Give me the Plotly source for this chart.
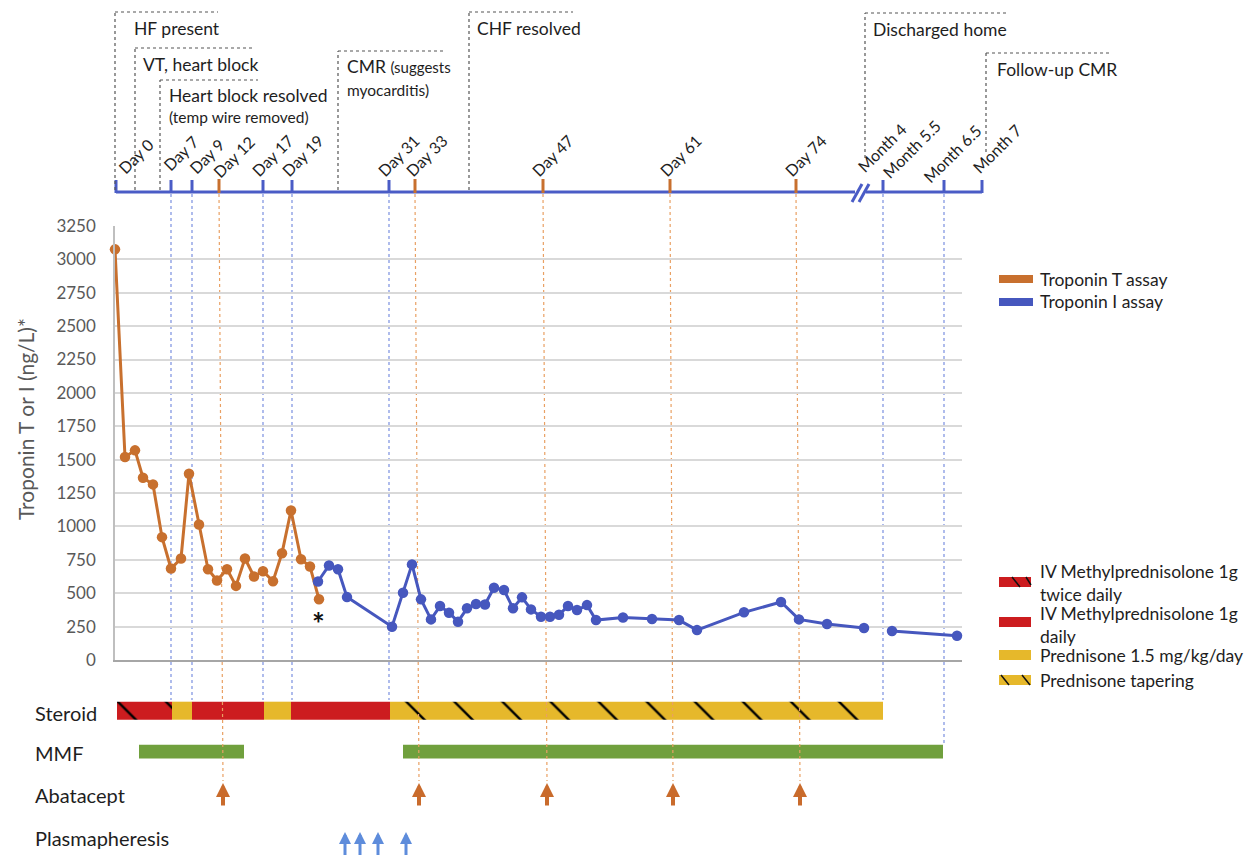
import plotly.graph_objects as go

W, H = 1252, 858
FONT = "Lato"

# ---------------- data ----------------
# timeline position units (1 unit = 1 px of the drawing)
tnt_pos = [115, 125, 135, 143, 153, 162, 171, 181, 189, 199, 208, 217, 227, 236,
           245, 254, 263, 273, 282, 291, 301, 310, 319]
tnt_val = [3075, 1520, 1570, 1365, 1315, 920, 685, 760, 1395, 1015, 680, 595, 680, 555,
           760, 625, 665, 590, 800, 1120, 755, 700, 455]

tni_pos = [318, 329, 338, 347, 392, 403, 412, 421, 431, 440, 449, 458, 467, 476, 485,
           494, 504, 513, 522, 531, 541, 550, 559, 568, 577, 587, 596, 623, 652, 679,
           697, 744, 781, 799, 827, 864, None, 892, 957]
tni_val = [588, 708, 680, 471, 249, 504, 716, 454, 304, 404, 354, 287, 387, 419, 416,
           541, 524, 387, 469, 379, 324, 324, 339, 404, 374, 411, 299, 318, 307, 299,
           224, 357, 434, 304, 269, 239, None, 217, 182]

y_ticks = list(range(0, 3251, 250))

tick_blue = [116, 171, 192, 263, 292, 389, 883, 944, 982]
tick_orange = [219, 415, 543, 670, 796]
tick_labels = ["Day 0", "Day 7", "Day 9", "Day 12", "Day 17", "Day 19", "Day 31", "Day 33",
               "Day 47", "Day 61", "Day 74", "Month 4", "Month 5.5", "Month 6.5", "Month 7"]

event_text = ["HF present", "VT, heart block", "Heart block resolved",
              "CMR <span style='font-size:15px'>(suggests</span>", "CHF resolved",
              "Discharged home", "Follow-up CMR"]
event_pos = [115, 135, 160, 338, 469, 865, 986]

steroid_start = [117, 172, 192, 264, 291, 390]
steroid_end = [172, 192, 264, 291, 390, 883]
steroid_kind = ["mp_bid", "pred", "mp", "pred", "mp", "taper"]

mmf_start = [139, 403]
mmf_end = [244, 943]

abatacept_pos = [223, 419, 547, 673, 800]
plasma_pos = [345, 360, 378, 406]

rows = ["Steroid", "MMF", "Abatacept", "Plasmapheresis"]

# ---------------- styling ----------------
ORANGE = "#C8702E"
BLUE = "#4657BE"
TL_BLUE = "#4A5CC6"
RED = "#CC1C1F"
YELLOW = "#E6B82B"
GREEN = "#70A03D"
ARROW_OR = "#C96B2C"
ARROW_BL = "#5E8CDB"
DOT_BLUE = "#7A8FE0"
DOT_OR = "#E9A063"
TXT = "#1e1e1e"
GRAY = "#595959"


def py(p):
    return 1 - p / H


fig = go.Figure()

# troponin series
fig.add_trace(go.Scatter(x=tnt_pos, y=tnt_val, mode="lines+markers", name="Troponin T assay",
                         line=dict(color=ORANGE, width=3), marker=dict(size=10.5, color=ORANGE),
                         xaxis="x", yaxis="y", cliponaxis=False, showlegend=False))
fig.add_trace(go.Scatter(x=tni_pos, y=tni_val, mode="lines+markers", name="Troponin I assay",
                         line=dict(color=BLUE, width=3), marker=dict(size=10.5, color=BLUE),
                         xaxis="x", yaxis="y", cliponaxis=False, showlegend=False,
                         connectgaps=False))

# treatment bars
kind_color = {"mp_bid": RED, "mp": RED, "pred": YELLOW, "taper": YELLOW}
for s, e, k in zip(steroid_start, steroid_end, steroid_kind):
    pat = dict(shape="\\", fgcolor="#000000", fgopacity=1, size=34, solidity=0.07) if k in ("mp_bid", "taper") else dict(shape="")
    fig.add_trace(go.Bar(orientation="h", base=[s], x=[e - s], y=[0], width=0.44,
                         marker=dict(color=kind_color[k], line=dict(width=0), pattern=pat),
                         xaxis="x2", yaxis="y3", showlegend=False))
for s, e in zip(mmf_start, mmf_end):
    fig.add_trace(go.Bar(orientation="h", base=[s], x=[e - s], y=[1], width=0.34,
                         marker=dict(color=GREEN, line=dict(width=0)),
                         xaxis="x2", yaxis="y3", showlegend=False))

shapes = []
ann = []

# ---- timeline ----
shapes.append(dict(type="line", xref="x2", yref="paper", x0=116, x1=982, y0=py(192), y1=py(192),
                   line=dict(color=TL_BLUE, width=3)))
for t in tick_blue:
    shapes.append(dict(type="line", xref="x2", yref="paper", x0=t, x1=t, y0=py(193), y1=py(180),
                       line=dict(color=TL_BLUE, width=3)))
for t in tick_orange:
    shapes.append(dict(type="line", xref="x2", yref="paper", x0=t, x1=t, y0=py(193), y1=py(179),
                       line=dict(color=ORANGE, width=3)))
# break mark
shapes.append(dict(type="line", xref="x2", yref="paper", x0=855, x1=866, y0=py(192), y1=py(192),
                   line=dict(color="white", width=5)))
for dx in (0, 7):
    shapes.append(dict(type="line", xref="x2", yref="paper", x0=852 + dx, x1=862 + dx,
                       y0=py(202), y1=py(184), line=dict(color=TL_BLUE, width=3)))

# tick labels (rotated)
lab_cx = [135, 180, 206, 234, 272, 302, 398, 426, 552, 680, 805, 882, 912, 952, 997]
lab_cy = [156, 153, 156, 157, 155, 155, 155, 155, 155, 155, 155, 148, 149, 153, 149]
for t, cx, cy in zip(tick_labels, lab_cx, lab_cy):
    ann.append(dict(text=t, xref="x2", yref="paper", x=cx, y=py(cy), showarrow=False,
                    textangle=-45, xanchor="center", yanchor="middle",
                    font=dict(family=FONT, size=16, color=TXT)))

# ---- event boxes ----
ev_top = [12, 48, 80, 51, 12, 13, 53]
ev_right = [218, 253, 258, 443, 573, 1008, 1110]
ev_bottom = [190, 190, 190, 190, 190, 158, 152]
ev_text_x = [132, 141, 167, 345, 475, 871, 995]
for txt, x, top, right, bot, tx in zip(event_text, event_pos, ev_top, ev_right, ev_bottom, ev_text_x):
    shapes.append(dict(type="line", xref="x2", yref="paper", x0=x, x1=x, y0=py(bot), y1=py(top),
                       line=dict(color="#555555", width=1.2, dash="dot")))
    shapes.append(dict(type="line", xref="x2", yref="paper", x0=x, x1=right, y0=py(top), y1=py(top),
                       line=dict(color="#555555", width=1.2, dash="dot")))
    ann.append(dict(text=txt, xref="x2", yref="paper", x=tx, y=py(top + 16), showarrow=False,
                    xanchor="left", yanchor="middle", font=dict(family=FONT, size=17.5, color=TXT)))
ann.append(dict(text="(temp wire removed)", xref="x2", yref="paper", x=167, y=py(117), showarrow=False,
                xanchor="left", yanchor="middle", font=dict(family=FONT, size=15.5, color=TXT)))
ann.append(dict(text="myocarditis)", xref="x2", yref="paper", x=345, y=py(90), showarrow=False,
                xanchor="left", yanchor="middle", font=dict(family=FONT, size=15.5, color=TXT)))

# ---- guide lines ----
for t in [171, 192, 263, 292, 389, 883]:
    shapes.append(dict(type="line", xref="x2", yref="paper", x0=t, x1=t, y0=py(194), y1=py(700),
                       layer="below", line=dict(color=DOT_BLUE, width=1.2, dash="dot")))
shapes.append(dict(type="line", xref="x2", yref="paper", x0=944, x1=944, y0=py(194), y1=py(745),
                   layer="below", line=dict(color=DOT_BLUE, width=1.2, dash="dot")))
for t, a in zip(tick_orange, abatacept_pos):
    ymid = 690
    xm = t + (a - t) * (ymid - 194) / (781 - 194)
    shapes.append(dict(type="line", xref="x2", yref="paper", x0=t, x1=xm, y0=py(194), y1=py(ymid),
                       layer="below", line=dict(color=DOT_OR, width=1.2, dash="dot")))
    shapes.append(dict(type="line", xref="x2", yref="paper", x0=xm, x1=a, y0=py(ymid), y1=py(781),
                       layer="above", line=dict(color=DOT_OR, width=1.2, dash="dot")))

# ---- arrows ----
for a in abatacept_pos:
    ann.append(dict(text="", xref="x2", yref="y3", x=a, y=2, yshift=9.5, ax=0, ay=24,
                    showarrow=True, arrowhead=2, arrowsize=0.7, arrowwidth=4, arrowcolor=ARROW_OR))
for a in plasma_pos:
    ann.append(dict(text="", xref="x2", yref="y3", x=a, y=3, yshift=1.5, ax=0, ay=28,
                    showarrow=True, arrowhead=2, arrowsize=0.8, arrowwidth=3, arrowcolor=ARROW_BL))

# row labels
row_y = [713, 753, 795, 838]
for r, yy in zip(rows, row_y):
    ann.append(dict(text=r, xref="paper", yref="paper", x=33 / W, y=py(yy), showarrow=False,
                    xanchor="left", yanchor="middle", font=dict(family=FONT, size=20, color=TXT)))

# asterisk
ann.append(dict(text="<b>*</b>", xref="x", yref="y", x=318, y=275, showarrow=False,
                xanchor="center", yanchor="middle", font=dict(family=FONT, size=30, color="#111111")))

# y title
ann.append(dict(text="Troponin T or I (ng/L)*", xref="paper", yref="paper", x=25 / W, y=py(419),
                showarrow=False, textangle=-90, xanchor="center", yanchor="middle",
                font=dict(family=FONT, size=21, color=GRAY)))

# ---- legend ----
def swatch(x0, x1, yc, h, color):
    shapes.append(dict(type="rect", xref="paper", yref="paper", x0=x0 / W, x1=x1 / W,
                       y0=py(yc + h / 2), y1=py(yc - h / 2), fillcolor=color, line=dict(width=0)))


def stroke(xa, ya, xb, yb):
    shapes.append(dict(type="line", xref="paper", yref="paper", x0=xa / W, x1=xb / W,
                       y0=py(ya), y1=py(yb), line=dict(color="#111111", width=1.5)))


def legtext(t, yc):
    ann.append(dict(text=t, xref="paper", yref="paper", x=1038 / W, y=py(yc), showarrow=False,
                    xanchor="left", yanchor="middle", align="left",
                    font=dict(family=FONT, size=17.5, color=TXT)))


swatch(999, 1033, 279, 8, ORANGE)
legtext("Troponin T assay", 279)
swatch(999, 1033, 302, 8, BLUE)
legtext("Troponin I assay", 302)

swatch(999, 1031, 582, 10, RED)
stroke(1012, 577, 1020, 587)
stroke(1026, 577, 1031, 585)
legtext("IV Methylprednisolone 1g<br>twice daily", 583)
swatch(999, 1031, 622, 10, RED)
legtext("IV Methylprednisolone 1g<br>daily", 625)
swatch(999, 1031, 655, 10, YELLOW)
legtext("Prednisone 1.5 mg/kg/day", 655)
swatch(999, 1031, 680, 10, YELLOW)
stroke(1001, 675, 1009, 685)
stroke(1022, 675, 1030, 685)
legtext("Prednisone tapering", 680)

fig.update_layout(
    width=W, height=H, margin=dict(l=0, r=0, t=0, b=0, pad=0, autoexpand=False),
    paper_bgcolor="white", plot_bgcolor="rgba(0,0,0,0)",
    barmode="overlay", showlegend=False,
    font=dict(family=FONT, color=TXT),
    xaxis=dict(domain=[115 / W, 962 / W], range=[115, 962], anchor="y", automargin=False,
               showgrid=False, zeroline=False, showticklabels=False, ticks="",
               showline=True, linecolor="#A6A6A6", linewidth=1.5),
    yaxis=dict(domain=[py(660), py(226)], range=[0, 3250], anchor="x", automargin=False,
               tickvals=y_ticks, showgrid=True, gridcolor="#D9D9D9", gridwidth=1.5,
               zeroline=False, showline=True, linecolor="#BFBFBF", linewidth=1.5,
               ticks="", ticklabelstandoff=14,
               tickfont=dict(family=FONT, size=17, color=GRAY)),
    xaxis2=dict(domain=[0, 1], range=[0, W], anchor="y3", visible=False, automargin=False),
    yaxis3=dict(domain=[0, py(680)], range=[3.6, -0.75], anchor="x2", visible=False, automargin=False),
    shapes=shapes, annotations=ann,
)

fig.write_html("out.html", config={"displayModeBar": False},
               post_script="document.body.style.margin='0';document.body.style.overflow='hidden';")
